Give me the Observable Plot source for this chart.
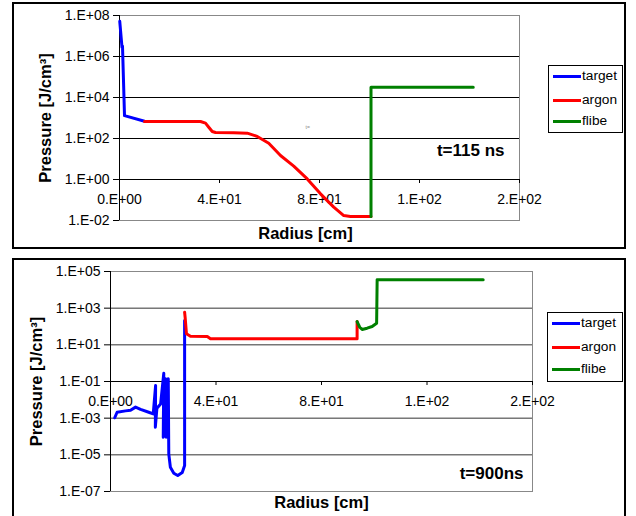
<!DOCTYPE html>
<html>
<head>
<meta charset="utf-8">
<script src="https://cdn.jsdelivr.net/npm/d3@7"></script>
<script src="https://cdn.jsdelivr.net/npm/@observablehq/plot@0.6"></script>
<style>
  html, body { margin: 0; padding: 0; background: #fff; }
  #page { position: relative; width: 636px; height: 516px; overflow: hidden; background: #fff;
          font-family: "Liberation Sans", Arial, sans-serif; }
  .panel { position: absolute; left: 0; }
  .frame { position: absolute; box-sizing: border-box; border: 2px solid #000; pointer-events: none; }
  .legend { position: absolute; box-sizing: border-box; border: 1px solid #000; background: #fff; }
  .legend .sw { position: absolute; height: 3px; }
  .legend .lb { position: absolute; font-size: 13.7px; line-height: 16px; color: #000; }
</style>
</head>
<body>
<div id="page">
  <div id="p1" class="panel" style="top:0px"></div>
  <div id="p2" class="panel" style="top:255px"></div>
  <div class="frame" style="left:12px;top:2px;width:614px;height:247px"></div>
  <div class="frame" style="left:12px;top:258px;width:614px;height:300px"></div>
  <div id="leg1" class="legend" style="left:548px;top:65px;width:75px;height:68px"></div>
  <div id="leg2" class="legend" style="left:547px;top:312px;width:76px;height:70px"></div>
</div>
<script>
// ---------- shared labels ----------
const seriesNames = ["target", "argon", "flibe"];
const seriesColors = ["#0000FF", "#FF0000", "#008000"];
const xTicks = [0, 40, 80, 120, 160];
const xTickLabels = ["0.E+00", "4.E+01", "8.E+01", "1.E+02", "2.E+02"];
const xTitle = "Radius [cm]";
const yTitle = "Pressure [J/cm³]";

// ---------- panel 1: t = 115 ns ----------
const stamp115 = "t=115 ns";
const yTicks115 = [1e-2, 1e0, 1e2, 1e4, 1e6, 1e8];
const yTickLabels115 = ["1.E-02", "1.E+00", "1.E+02", "1.E+04", "1.E+06", "1.E+08"];
const target115R = [0.1, 1.0, 1.2, 2.0, 10];
const target115P = [5.2e7, 2.8e6, 3.2e6, 1.3e3, 690];
const argon115R = [10, 32.4, 34.4, 35.7, 37.1, 38.4, 45.7, 51.1, 55.1, 59.7, 64.4, 69.7, 75.1, 80.4, 85.7, 89.7, 92.4, 100.6];
const argon115P = [676, 676, 562, 355, 219, 195, 191, 182, 126, 59, 14.8, 4.5, 1.07, 0.20, 0.045, 0.0174, 0.0158, 0.0158];
const flibe115R = [100.6, 100.6, 141.5];
const flibe115P = [0.0158, 3.2e4, 3.2e4];

// ---------- panel 2: t = 900 ns ----------
const stamp900 = "t=900ns";
const yTicks900 = [1e-7, 1e-5, 1e-3, 1e-1, 1e1, 1e3, 1e5];
const yTickLabels900 = ["1.E-07", "1.E-05", "1.E-03", "1.E-01", "1.E+01", "1.E+03", "1.E+05"];
const target900R = [1.6, 2.5, 5.7, 7.6, 9.5, 11.4, 14.5, 16.2, 17.1, 17.0, 17.6, 19.0, 20.2, 20.0, 20.9, 21.1, 21.9, 22.1, 22.7, 24.0, 25.5, 27.2, 28.1, 28.1];
const target900P = [1.05e-3, 2.1e-3, 2.5e-3, 2.7e-3, 4.0e-3, 3.0e-3, 2.1e-3, 1.7e-3, 6.0e-2, 3.2e-4, 3.5e-3, 6.0e-3, 0.28, 9.1e-5, 0.14, 9.1e-5, 0.14, 1.1e-5, 2.1e-6, 1.0e-6, 7.4e-7, 1.1e-6, 2.6e-6, 214];
const argon900R = [28.1, 28.3, 28.8, 30.3, 36.7, 37.9, 93.5, 93.5];
const argon900P = [600, 316, 40, 29.5, 28.2, 21.4, 21.4, 186];
const flibe900R = [93.5, 94.5, 95.4, 97.3, 99.2, 100.9, 101.1, 141.3];
const flibe900P = [186, 91, 69, 81, 100, 151, 3.6e4, 3.6e4];

function pts(R, P) { return R.map((r, i) => ({r, p: P[i]})); }

function panel(o) {
  const yDomain = [o.yTicks[0], o.yTicks[o.yTicks.length - 1]];
  const inner = o.yTicks.filter(t => t > yDomain[0] && t < yDomain[1]);
  const lab = d => o.yLabels[o.yTicks.findIndex(t => Math.abs(Math.log10(t) - Math.log10(d)) < 1e-6)];
  const series = [[o.tR, o.tP], [o.aR, o.aP], [o.fR, o.fP]];
  return Plot.plot({
    width: 636,
    height: o.height,
    marginLeft: o.marginLeft,
    marginRight: o.marginRight,
    marginTop: o.marginTop,
    marginBottom: o.marginBottom,
    style: {fontFamily: "'Liberation Sans', Arial, sans-serif", fontSize: "14px", background: "transparent", color: "#000"},
    x: {domain: [0, 160], axis: null},
    y: {type: "log", domain: yDomain},
    marks: [
      Plot.frame({stroke: "#888"}),
      Plot.ruleY(inner, {stroke: o.grid, strokeWidth: 1}),
      Plot.ruleY([o.xAxisAt], {stroke: "#000", strokeWidth: 1}),
      Plot.ruleX([0], {stroke: "#000", strokeWidth: 1}),
      Plot.ruleX(xTicks, {x: d => d, y1: () => o.xAxisAt, y2: () => o.xAxisAt, insetBottom: -4, stroke: "#000"}),
      Plot.axisY({ticks: o.yTicks, tickFormat: lab, tickSize: 6, tickPadding: 4, label: null, anchor: "left", fontSize: 14}),
      Plot.text(xTicks, {x: d => d, y: () => o.xAxisAt, text: (d, i) => xTickLabels[i], dy: 20, fontSize: 14}),
      ...series.map((s, k) => Plot.line(pts(s[0], s[1]), {x: "r", y: "p", stroke: seriesColors[k], strokeWidth: 3, strokeLinejoin: "round", strokeLinecap: "round"})),
      Plot.text([xTitle], {text: d => d, frameAnchor: "bottom", textAnchor: "middle", dx: o.xTitleDx, dy: o.xTitleDy, fontWeight: "bold", fontSize: 16.5, lineAnchor: "middle"}),
      Plot.text([yTitle], {text: d => d, frameAnchor: "left", textAnchor: "middle", rotate: -90, dx: o.yTitleDx, fontWeight: "bold", fontSize: 16.5, lineAnchor: "middle"}),
      Plot.text([o.stamp], {text: d => d, frameAnchor: "bottom-right", textAnchor: "end", lineAnchor: "middle", dx: o.stampDx, dy: o.stampDy, fontWeight: "bold", fontSize: 17}),
      ...(o.extra || [])
    ]
  });
}

document.getElementById("p1").append(panel({
  tR: target115R, tP: target115P, aR: argon115R, aP: argon115P, fR: flibe115R, fP: flibe115P,
  yTicks: yTicks115, yLabels: yTickLabels115, xAxisAt: 1,
  height: 250, marginTop: 15, marginBottom: 30, marginLeft: 119, marginRight: 117,
  grid: "#000", stamp: stamp115, stampDx: -15, stampDy: -70, xTitleDx: -14, xTitleDy: 13, yTitleDx: -74,
  extra: [Plot.text(["t="], {text: d => d, frameAnchor: "top-left", dx: 186, dy: 110, fontSize: 5, fill: "#888"})]
}));

document.getElementById("p2").append(panel({
  tR: target900R, tP: target900P, aR: argon900R, aP: argon900P, fR: flibe900R, fP: flibe900P,
  yTicks: yTicks900, yLabels: yTickLabels900, xAxisAt: 0.1,
  height: 261, marginTop: 16, marginBottom: 25, marginLeft: 110, marginRight: 104,
  grid: "#333", stamp: stamp900, stampDx: -9, stampDy: -18, xTitleDx: 0, xTitleDy: 11, yTitleDx: -74
}));

function legend(id, rows) {
  const el = document.getElementById(id);
  seriesNames.forEach((name, i) => {
    const sw = document.createElement("div");
    sw.className = "sw";
    sw.style.left = "4px"; sw.style.width = "28px";
    sw.style.top = (rows[i] - 1.5) + "px";
    sw.style.background = seriesColors[i];
    el.append(sw);
    const lb = document.createElement("div");
    lb.className = "lb";
    lb.style.left = "33px";
    lb.style.top = (rows[i] - 8) + "px";
    lb.textContent = name;
    el.append(lb);
  });
}
legend("leg1", [10, 34, 55]);
legend("leg2", [10, 34, 56]);
</script>
</body>
</html>
